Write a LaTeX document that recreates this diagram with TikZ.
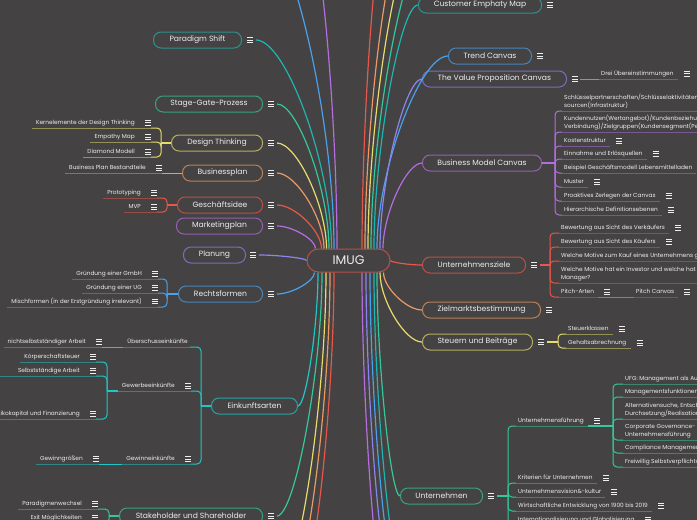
\documentclass[tikz,border=0pt]{standalone}
\usepackage{fontspec}
\setmainfont{Poppins}
\usetikzlibrary{calc,positioning}

\definecolor{bgc}{HTML}{444242}
\definecolor{txt}{HTML}{EEEEEE}
\definecolor{cteal}{HTML}{1FB5B0}
\definecolor{cgreen}{HTML}{34C89C}
\definecolor{cyellow}{HTML}{E6DC6E}
\definecolor{corange}{HTML}{EA9A66}
\definecolor{cred}{HTML}{E8574A}
\definecolor{cpurple}{HTML}{B46EE0}
\definecolor{clav}{HTML}{8C84F0}
\definecolor{cblue}{HTML}{4AA2EC}
\definecolor{ccyan}{HTML}{1EC8C8}

\newcommand*{\topicfont}{\fontsize{7.6}{9}\selectfont}
\newcommand*{\itemfont}{\fontsize{5.8}{8}\selectfont}
\newcommand*{\istrut}{\rule[-1.4pt]{0pt}{4.6pt}}

\tikzset{
    % boxes of the main branches
    topic/.style={
           rectangle,
           rounded corners=7.5pt,
           draw=#1!70!bgc, line width=1pt,
           fill=bgc, text=txt, font=\topicfont,
           minimum height=16pt, inner sep=0pt},
    % small underlined entries
    item/.style={
           text=txt, font=\itemfont, align=left,
           inner xsep=0pt, inner ysep=2pt},
    % connector style
    link/.style={
           draw=#1, line width=1.2pt},
    % leave vertically, arrive horizontally
    elbow/.style={
           to path={.. controls ($(\tikztostart)!0.4!(\tikztostart |- \tikztotarget)$)
                    and ($(\tikztotarget)!0.4!(\tikztostart |- \tikztotarget)$) .. (\tikztotarget)}},
    % the little note icon
    menu/.pic={
           \draw[txt, line width=0.7pt] (-3,-2.4) -- (3,-2.4) (-3,0) -- (3,0) (-3,2.4) -- (3,2.4);}
}
\newcommand*{\ritem}[4]{\node[item, anchor=south west] (#1) at (#2,#3) {#4\istrut};}
\newcommand*{\litem}[4]{\node[item, anchor=south east] (#1) at (#2,#3) {#4\istrut};}
\newcommand*{\hmenu}[2][13pt]{\pic at ([xshift=#1]#2.east) {menu};}
% bracket from a junction to an entry, then the dim underline
\newcommand*{\rbranch}[3]{%
  \draw[#3, line width=1pt, rounded corners=4pt] (#1) |- ([xshift=-2pt]#2.south west);
  \draw[#3!50!bgc, line width=1pt] ([xshift=-2pt]#2.south west) -- ([xshift=4pt]#2.south east);}
\newcommand*{\lbranch}[3]{%
  \draw[#3, line width=1pt, rounded corners=4pt] (#1) |- ([xshift=16pt]#2.south east);
  \draw[#3!50!bgc, line width=1pt] ([xshift=16pt]#2.south east) -- ([xshift=-4pt]#2.south west);}
% straight link to a single entry
\newcommand*{\rchain}[3]{%
  \draw[#3, line width=1pt] (#1) -- ([xshift=-2pt]#2.south west);
  \draw[#3!50!bgc, line width=1pt] ([xshift=-2pt]#2.south west) -- ([xshift=4pt]#2.south east);}
\newcommand*{\lchain}[3]{%
  \draw[#3, line width=1pt] (#1) -- ([xshift=16pt]#2.south east);
  \draw[#3!50!bgc, line width=1pt] ([xshift=16pt]#2.south east) -- ([xshift=-4pt]#2.south west);}

\begin{document}
\begin{tikzpicture}[x=1pt, y=-1pt]
\useasboundingbox (0,0) rectangle (697,520);
\clip (0,0) rectangle (697,520);
\fill[bgc] (0,0) rectangle (697,520);

% centre
\node[topic=cred, minimum width=83pt, minimum height=23pt, rounded corners=11.5pt,
      font=\fontsize{12.5}{14}\selectfont] (imug) at (348.5,260.5) {IMUG};

% left branches
\node[topic=cteal,   minimum width=88pt,  anchor=east] (paradigm)    at (242,40)  {Paradigm Shift};
\node[topic=cgreen,  minimum width=107pt, anchor=east] (stagegate)   at (263,104) {Stage-Gate-Prozess};
\node[topic=cyellow, minimum width=91pt,  anchor=east] (designth)    at (263,143) {Design Thinking};
\node[topic=corange, minimum width=80pt,  anchor=east] (bizplan)     at (263,173) {Businessplan};
\node[topic=cred,    minimum width=85pt,  anchor=east] (idee)        at (263,205) {Geschäftsidee};
\node[topic=cpurple, minimum width=86pt,  anchor=east] (marketing)   at (263,226) {Marketingplan};
\node[topic=clav,    minimum width=62pt,  anchor=east] (planung)     at (246,255) {Planung};
\node[topic=cblue,   minimum width=84pt,  anchor=east] (rechtsform)  at (263,294) {Rechtsformen};
\node[topic=ccyan,   minimum width=86pt,  anchor=east] (einkunft)    at (298,406) {Einkunftsarten};
\node[topic=cgreen,  minimum width=143pt, anchor=east] (stakeholder) at (263,516) {Stakeholder und Shareholder};

% right branches
\node[topic=cteal,   minimum width=123pt, anchor=west] (customer)    at (418,5)   {Customer Emphaty Map};
\node[topic=cblue,   minimum width=83pt,  anchor=west] (trend)       at (448,56)  {Trend Canvas};
\node[topic=clav,    minimum width=144pt, anchor=west] (valueprop)   at (422,79)  {The Value Proposition Canvas};
\node[topic=cpurple, minimum width=119pt, anchor=west] (bmc)         at (422,163) {Business Model Canvas};
\node[topic=cred,    minimum width=103pt, anchor=west] (ziele)       at (422,265) {Unternehmensziele};
\node[topic=corange, minimum width=118pt, anchor=west] (zielmarkt)   at (422,310) {Zielmarktsbestimmung};
\node[topic=cyellow, minimum width=110pt, anchor=west] (steuern)     at (422,342) {Steuern und Beiträge};
\node[topic=cgreen,  minimum width=82pt,  anchor=west] (unternehmen) at (400,496) {Unternehmen};

% entries on the left
\litem{dt1}{135}{128}{Kernelemente der Design Thinking}
\litem{dt2}{135}{142}{Empathy Map}
\litem{dt3}{135}{157}{Diamond Modell}
\litem{bp1}{146}{173}{Business Plan Bestandteile}
\litem{gi1}{141}{198}{Prototyping}
\litem{gi2}{141}{212}{MVP}
\litem{rf1}{142}{279}{Gründung einer GmbH}
\litem{rf2}{142}{293}{Gründung einer UG}
\litem{rf3}{142}{307}{Mischformen (in der Erstgründung irrelevant)}
\litem{ek1}{188}{347}{Überschusseinkünfte}
\litem{ek1a}{86}{347}{nichtselbstständiger Arbeit}
\litem{ek2}{175}{391}{Gewerbeeinkünfte}
\litem{ek21}{80}{362}{Körperschaftsteuer}
\litem{ek22}{80}{376}{Selbstständige Arbeit}
\litem{ek23}{80}{419}{Risikokapital und Finanzierung}
\litem{ek3}{175}{464}{Gewinneinkünfte}
\litem{ek3a}{83}{464}{Gewinngrößen}
\litem{sh1}{82}{509}{Paradigmenwechsel}
\litem{sh2}{82}{523}{Exit Möglichkeiten}

% entries on the right
\ritem{vp1}{601}{79}{Drei Übereinstimmungen}
\ritem{bmc1}{564}{111}{Schlüsselpartnerschaften/Schlüsselaktivitäten/Schlüsselres-\\sourcen(Infrastruktur)}
\ritem{bmc2}{564}{132}{Kundennutzen(Wertangebot)/Kundenbeziehung(Kanäle,\\Verbindung)/Zielgruppen(Kundensegment(Personas))}
\ritem{bmc3}{564}{146}{Kostenstruktur}
\ritem{bmc4}{564}{159}{Einnahme und Erlösquellen}
\ritem{bmc5}{564}{173}{Beispiel Geschäftsmodell Lebensmittelladen}
\ritem{bmc6}{564}{187}{Muster}
\ritem{bmc7}{564}{201}{Proaktives Zerlegen der Canvas}
\ritem{bmc8}{564}{215}{Hierarchische Definitionsebenen}
\ritem{z1}{561}{233}{Bewertung aus Sicht des Verkäufers}
\ritem{z2}{561}{247}{Bewertung aus Sicht des Käufers}
\ritem{z3}{561}{261}{Welche Motive zum Kauf eines Unternehmens gibt es?}
\ritem{z4}{561}{283}{Welche Motive hat ein Investor und welche hat ein\\Manager?}
\ritem{z5}{561}{297}{Pitch-Arten}
\ritem{z5a}{636}{297}{Pitch Canvas}
\ritem{st1}{568}{334}{Steuerklassen}
\ritem{st2}{568}{348}{Gehaltsabrechnung}
\ritem{u1}{518}{426}{Unternehmensführung}
\ritem{u11}{625}{384}{UFG: Management als Aufgabe}
\ritem{u12}{625}{397}{Managementsfunktionen}
\ritem{u13}{625}{419}{Alternativensuche, Entscheidung,\\Durchsetzung/Realisation}
\ritem{u14}{625}{440}{Corporate Governance- Grundsätze der\\Unternehmensführung}
\ritem{u15}{625}{453}{Compliance Management}
\ritem{u16}{625}{467}{Freiwillig Selbstverpflichtung}
\ritem{u2}{518}{483}{Kriterien für Unternehmen}
\ritem{u3}{518}{497}{Unternehmensvision\&-kultur}
\ritem{u4}{518}{511}{Wirtschaftliche Entwicklung von 1900 bis 2019}
\ritem{u5}{518}{525}{Internationalisierung und Globalisierung}

% where the links leave the centre
\coordinate (o-mk)  at ([xshift=-33pt]imug.north);
\coordinate (o-gi)  at ([xshift=-27pt]imug.north);
\coordinate (o-bp)  at ([xshift=-24.5pt]imug.north);
\coordinate (o-dt)  at ([xshift=-22pt]imug.north);
\coordinate (o-sg)  at ([xshift=-19.5pt]imug.north);
\coordinate (o-ps)  at ([xshift=-17pt]imug.north);
\coordinate (o-tlb) at ([xshift=-14.5pt]imug.north);
\coordinate (o-tlp) at ([xshift=-11.5pt]imug.north);
\coordinate (o-trr) at ([xshift=13.5pt]imug.north);
\coordinate (o-tro) at ([xshift=16.5pt]imug.north);
\coordinate (o-try) at ([xshift=19.5pt]imug.north);
\coordinate (o-trg) at ([xshift=22.5pt]imug.north);
\coordinate (o-cu)  at ([xshift=25.5pt]imug.north);
\coordinate (o-tr)  at ([xshift=28.5pt]imug.north);
\coordinate (o-vp)  at ([xshift=31.5pt]imug.north);
\coordinate (o-bmc) at ([xshift=34.5pt]imug.north);
\coordinate (o-rf)  at ([xshift=-34pt]imug.south);
\coordinate (o-ek)  at ([xshift=-30.5pt]imug.south);
\coordinate (o-sh)  at ([xshift=-26.5pt]imug.south);
\coordinate (o-bly) at ([xshift=-22.5pt]imug.south);
\coordinate (o-blo) at ([xshift=-18.5pt]imug.south);
\coordinate (o-blr) at ([xshift=-14.5pt]imug.south);
\coordinate (o-brp) at ([xshift=13.5pt]imug.south);
\coordinate (o-brl) at ([xshift=17.5pt]imug.south);
\coordinate (o-brb) at ([xshift=21.5pt]imug.south);
\coordinate (o-brt) at ([xshift=25.5pt]imug.south);
\coordinate (o-un)  at ([xshift=28.5pt]imug.south);
\coordinate (o-st)  at ([xshift=31.5pt]imug.south);
\coordinate (o-zm)  at ([xshift=35pt]imug.south);

% where they arrive
\coordinate (in-ps) at ([xshift=14pt]paradigm.east);
\coordinate (in-sg) at ([xshift=14pt]stagegate.east);
\coordinate (in-dt) at ([xshift=14pt]designth.east);
\coordinate (in-bp) at ([xshift=14pt]bizplan.east);
\coordinate (in-gi) at ([xshift=14pt]idee.east);
\coordinate (in-mk) at ([xshift=14pt]marketing.east);
\coordinate (in-pl) at ([xshift=13pt]planung.east);
\coordinate (in-rf) at ([xshift=14pt]rechtsform.east);
\coordinate (in-sh) at ([xshift=14pt]stakeholder.east);

% branches running out of the picture
\coordinate (off-tlb) at (266,-60);
\coordinate (off-tlp) at (311,-60);
\coordinate (off-trr) at (383,-60);
\coordinate (off-tro) at (403,-60);
\coordinate (off-try) at (416,-60);
\coordinate (off-trg) at (430,-60);
\coordinate (off-bly) at (281,580);
\coordinate (off-blo) at (292,580);
\coordinate (off-blr) at (302,580);
\coordinate (off-brp) at (383,580);
\coordinate (off-brl) at (391,580);
\coordinate (off-brb) at (397,580);
\coordinate (off-brt) at (403,580);

% junctions of the brackets
\coordinate (dt-j)  at ([xshift=-10pt]designth.west);
\coordinate (gi-j)  at ([xshift=-10pt]idee.west);
\coordinate (rf-j)  at ([xshift=-11pt]rechtsform.west);
\coordinate (ek-j)  at ([xshift=-10pt]einkunft.west);
\coordinate (ek2-j) at (107,391);
\coordinate (ek22-out) at (-6,376);
\coordinate (sh-j)  at ([xshift=-10pt]stakeholder.west);
\coordinate (bmc-j) at ([xshift=13pt]bmc.east);
\coordinate (zi-j)  at ([xshift=24pt]ziele.east);
\coordinate (st-j)  at ([xshift=25pt]steuern.east);
\coordinate (un-j)  at ([xshift=25pt]unternehmen.east);
\coordinate (u1-j)  at (613,426);

% links from the centre
\draw[link=cpurple] (o-mk)  to[elbow] (in-mk);
\draw[link=cred]    (o-gi)  to[elbow] (in-gi);
\draw[link=corange] (o-bp)  to[elbow] (in-bp);
\draw[link=cyellow] (o-dt)  to[elbow] (in-dt);
\draw[link=cgreen]  (o-sg)  to[elbow] (in-sg);
\draw[link=cteal]   (o-ps)  to[elbow] (in-ps);
\draw[link=cblue]   (o-tlb) to[elbow] (off-tlb);
\draw[link=cpurple] (o-tlp) to[elbow] (off-tlp);
\draw[link=cred]    (o-trr) to[elbow] (off-trr);
\draw[link=corange] (o-tro) to[elbow] (off-tro);
\draw[link=cyellow] (o-try) to[elbow] (off-try);
\draw[link=cgreen]  (o-trg) to[elbow] (off-trg);
\draw[link=cteal]   (o-cu)  to[elbow] (customer.west);
\draw[link=cblue]   (o-tr)  to[elbow] (trend.west);
\draw[link=clav]    (o-vp)  to[elbow] (valueprop.west);
\draw[link=cpurple] (o-bmc) to[elbow] (bmc.west);
\draw[link=clav]    (imug.west) to[elbow] (in-pl);
\draw[link=cred]    (imug.east) to[elbow] (ziele.west);
\draw[link=cblue]   (o-rf)  to[elbow] (in-rf);
\draw[link=ccyan]   (o-ek)  to[elbow] (einkunft.east);
\draw[link=cgreen]  (o-sh)  to[elbow] (in-sh);
\draw[link=cyellow] (o-bly) to[elbow] (off-bly);
\draw[link=corange] (o-blo) to[elbow] (off-blo);
\draw[link=cred]    (o-blr) to[elbow] (off-blr);
\draw[link=cpurple] (o-brp) to[elbow] (off-brp);
\draw[link=clav]    (o-brl) to[elbow] (off-brl);
\draw[link=cblue]   (o-brb) to[elbow] (off-brb);
\draw[link=cteal]   (o-brt) to[elbow] (off-brt);
\draw[link=cgreen]  (o-un)  to[elbow] (unternehmen.west);
\draw[link=cyellow] (o-st)  to[elbow] (steuern.west);
\draw[link=corange] (o-zm)  to[elbow] (zielmarkt.west);

% left side brackets
\draw[cyellow, line width=1.8pt] (designth.west) -- (dt-j);
\lbranch{dt-j}{dt1}{cyellow}
\lbranch{dt-j}{dt2}{cyellow}
\lbranch{dt-j}{dt3}{cyellow}
\lchain{bizplan.west}{bp1}{corange}
\draw[cred, line width=1.8pt] (idee.west) -- (gi-j);
\lbranch{gi-j}{gi1}{cred}
\lbranch{gi-j}{gi2}{cred}
\draw[cblue, line width=1.8pt] (rechtsform.west) -- (rf-j);
\lbranch{rf-j}{rf1}{cblue}
\lbranch{rf-j}{rf2}{cblue}
\lbranch{rf-j}{rf3}{cblue}
\draw[ccyan, line width=1.8pt] (einkunft.west) -- (ek-j);
\draw[ccyan, line width=1pt, rounded corners=4pt] (ek-j) |- ([xshift=2pt]ek1.south east);
\draw[ccyan!50!bgc, line width=1pt] ([xshift=2pt]ek1.south east) -- ([xshift=-4pt]ek1.south west);
\lchain{[xshift=-4pt]ek1.south west}{ek1a}{ccyan}
\lbranch{ek-j}{ek2}{ccyan}
\lbranch{ek-j}{ek3}{ccyan}
\draw[ccyan, line width=1.8pt] ([xshift=-4pt]ek2.south west) -- (ek2-j);
\lbranch{ek2-j}{ek21}{ccyan}
\lbranch{ek2-j}{ek22}{ccyan}
\lbranch{ek2-j}{ek23}{ccyan}
\draw[ccyan!50!bgc, line width=1pt] ([xshift=-4pt]ek22.south west) -- (ek22-out);
\lchain{[xshift=-4pt]ek3.south west}{ek3a}{ccyan}
\draw[cgreen, line width=1.8pt] (stakeholder.west) -- (sh-j);
\lbranch{sh-j}{sh1}{cgreen}
\lbranch{sh-j}{sh2}{cgreen}

% right side brackets
\rchain{[xshift=13pt]valueprop.east}{vp1}{clav}
\draw[cpurple, line width=1.8pt] (bmc.east) -- (bmc-j);
\rbranch{bmc-j}{bmc1}{cpurple}
\rbranch{bmc-j}{bmc2}{cpurple}
\rbranch{bmc-j}{bmc3}{cpurple}
\rbranch{bmc-j}{bmc4}{cpurple}
\rbranch{bmc-j}{bmc5}{cpurple}
\rbranch{bmc-j}{bmc6}{cpurple}
\rbranch{bmc-j}{bmc7}{cpurple}
\rbranch{bmc-j}{bmc8}{cpurple}
\draw[cred, line width=1.8pt] ([xshift=14pt]ziele.east) -- (zi-j);
\rbranch{zi-j}{z1}{cred}
\rbranch{zi-j}{z2}{cred}
\rbranch{zi-j}{z3}{cred}
\rbranch{zi-j}{z4}{cred}
\rbranch{zi-j}{z5}{cred}
\rchain{[xshift=4pt]z5.south east}{z5a}{cred}
\draw[cyellow, line width=1.8pt] ([xshift=14pt]steuern.east) -- (st-j);
\rbranch{st-j}{st1}{cyellow}
\rbranch{st-j}{st2}{cyellow}
\draw[cgreen, line width=1.8pt] ([xshift=14pt]unternehmen.east) -- (un-j);
\rbranch{un-j}{u1}{cgreen}
\rbranch{un-j}{u2}{cgreen}
\rbranch{un-j}{u3}{cgreen}
\rbranch{un-j}{u4}{cgreen}
\rbranch{un-j}{u5}{cgreen}
\draw[cgreen, line width=1.8pt] ([xshift=4pt]u1.south east) -- (u1-j);
\rbranch{u1-j}{u11}{cgreen}
\rbranch{u1-j}{u12}{cgreen}
\rbranch{u1-j}{u13}{cgreen}
\rbranch{u1-j}{u14}{cgreen}
\rbranch{u1-j}{u15}{cgreen}
\rbranch{u1-j}{u16}{cgreen}

% note icons
\foreach \n in {paradigm,stagegate,designth,bizplan,idee,marketing,rechtsform,stakeholder,
                customer,trend,valueprop,ziele,zielmarkt,steuern,unternehmen}
    \hmenu[8pt]{\n};
\hmenu[7pt]{planung}
\foreach \n in {dt1,dt2,dt3,bp1,gi1,gi2,rf1,rf2,rf3,ek1a,ek2,ek21,ek22,ek23,ek3,ek3a,sh1,sh2,
                vp1,bmc3,bmc4,bmc6,bmc7,bmc8,z1,z2,z5,z5a,st1,st2,u1,u2,u3,u4,u5}
    \hmenu{\n};
\end{tikzpicture}
\end{document}
